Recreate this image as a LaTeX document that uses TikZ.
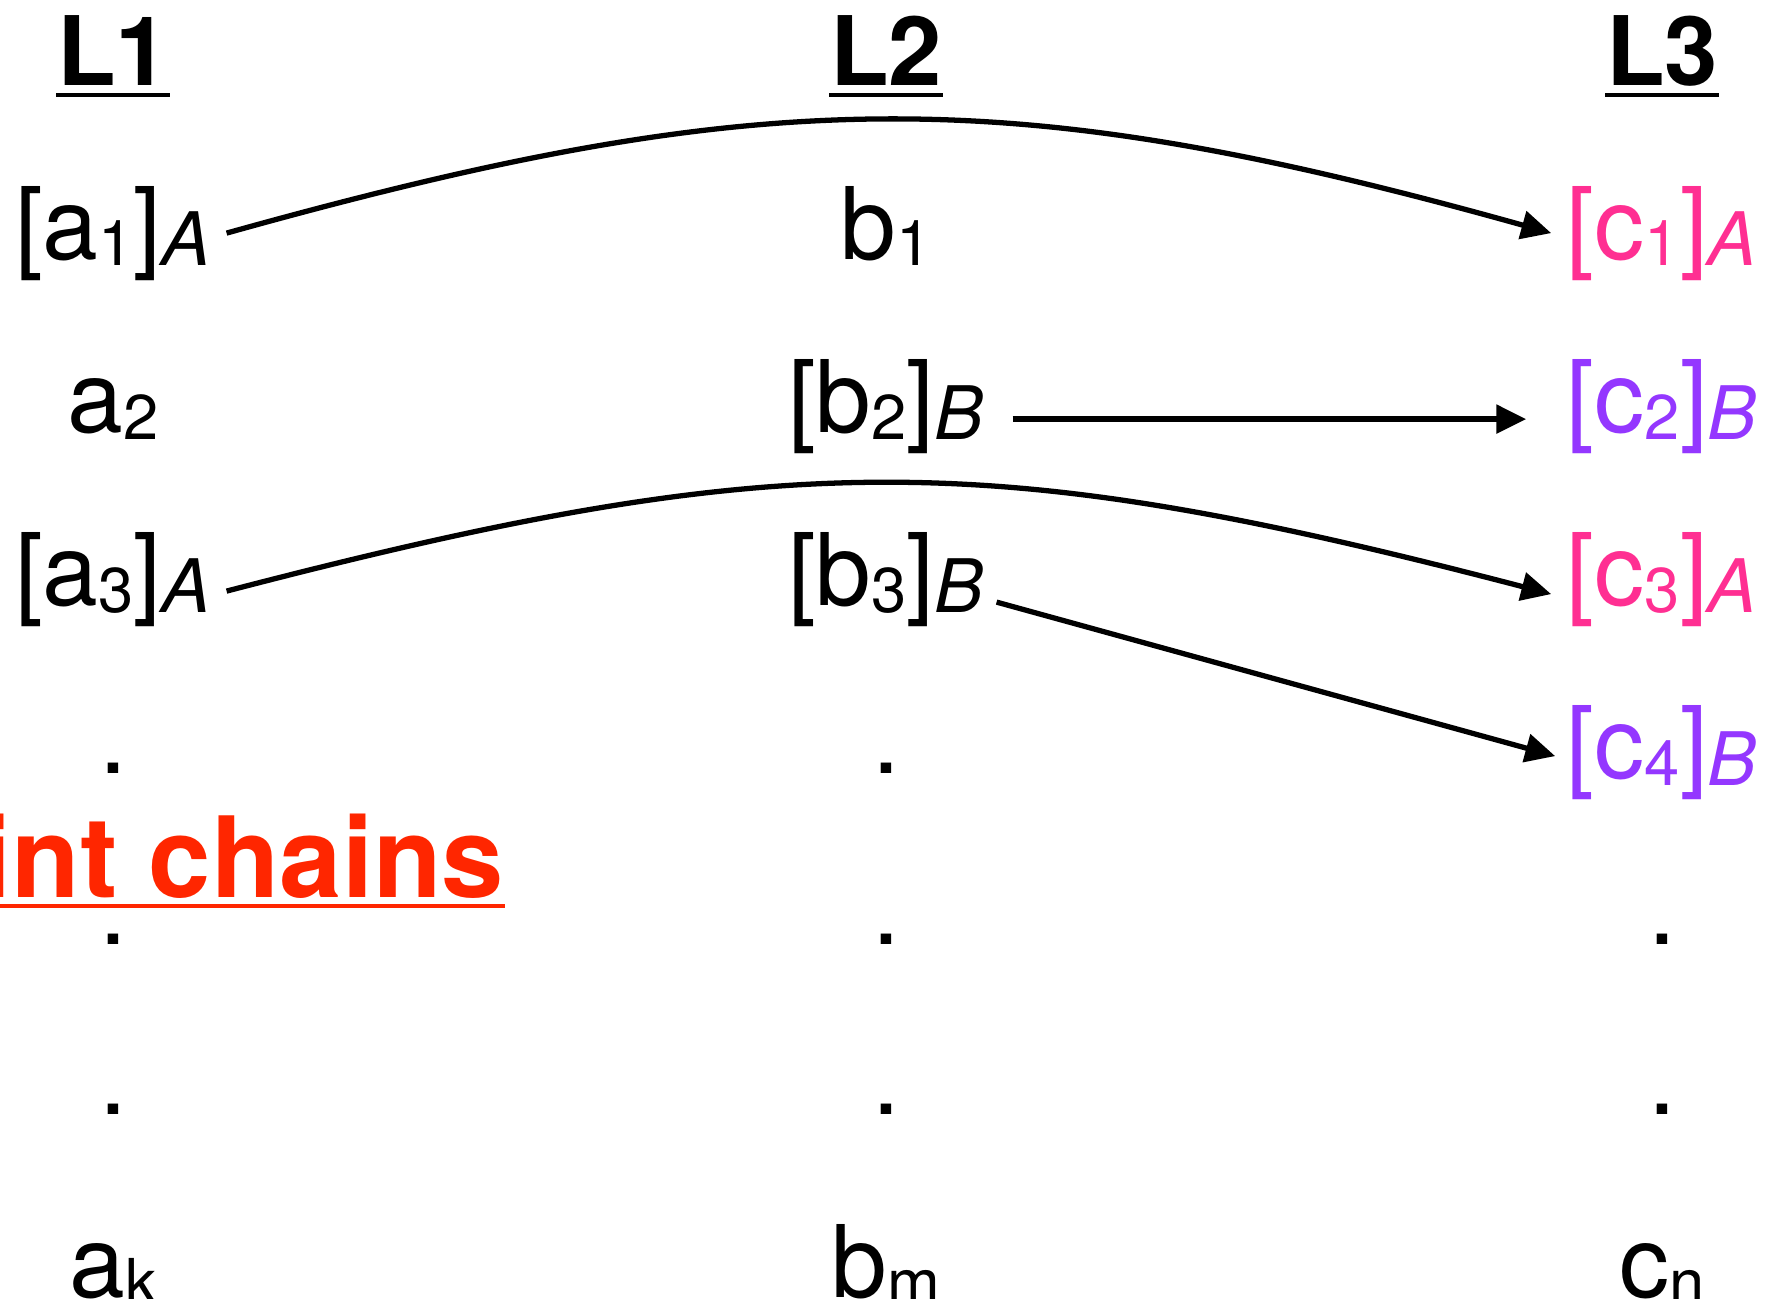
\documentclass[tikz,border=0pt]{standalone}
\usepackage{fontspec}
\setmainfont{TeX Gyre Heros}
\usepackage{xcolor}
\usepackage{tikz}
\usetikzlibrary{arrows.meta, positioning, calc}
\definecolor{chainpink}{HTML}{FF2F92}
\definecolor{chainpurple}{HTML}{9437FF}
\definecolor{chainred}{HTML}{FF2600}
\newcommand{\idx}[1]{\raisebox{-0.07cm}{\fontsize{18}{20}\selectfont #1}}
\newcommand{\grp}[1]{\raisebox{-0.07cm}{\fontsize{21}{23}\selectfont\itshape #1}}
\tikzset{
    layer/.style={anchor=base, inner sep=0pt, font=\fontsize{27.3}{30}\selectfont\bfseries},
    entry/.style={anchor=base, inner sep=0.15cm, font=\fontsize{28.5}{31}\selectfont},
    groupA/.style={entry, text=chainpink},
    groupB/.style={entry, text=chainpurple},
    arrow/.style={line width=1.5pt, -{Triangle[length=8.5pt, width=8pt]}},
    rule/.style={line width=1.15pt}
}

\begin{document}
\begin{tikzpicture}
    \useasboundingbox (0,0) rectangle (17.74,-12.99);

    % layer titles
    \node (L1) [layer] at (1.13,-0.86) {L1};
    \node (L2) [layer] at (8.86,-0.86) {L2};
    \node (L3) [layer] at (16.62,-0.86) {L3};
    \foreach \n in {L1,L2,L3}
        \draw [rule] ([yshift=-0.09cm]\n.base west) -- ([yshift=-0.09cm]\n.base east);

    % first layer
    \node (a1) [entry] at (1.13,-2.59) {{[}a\idx{1}{]}\grp{A}};
    \node (a2) [entry] at (1.13,-4.32) {a\idx{2}};
    \node (a3) [entry] at (1.13,-6.05) {{[}a\idx{3}{]}\grp{A}};
    \node (ak) [entry] at (1.13,-12.97) {a\idx{k}};

    % second layer
    \node (b1) [entry] at (8.86,-2.59) {b\idx{1}};
    \node (b2) [entry] at (8.86,-4.32) {{[}b\idx{2}{]}\grp{B}};
    \node (b3) [entry] at (8.86,-6.05) {{[}b\idx{3}{]}\grp{B}};
    \node (bm) [entry] at (8.86,-12.97) {b\idx{m}};

    % third layer
    \node (c1) [groupA] at (16.62,-2.59) {{[}c\idx{1}{]}\grp{A}};
    \node (c2) [groupB] at (16.62,-4.32) {{[}c\idx{2}{]}\grp{B}};
    \node (c3) [groupA] at (16.62,-6.05) {{[}c\idx{3}{]}\grp{A}};
    \node (c4) [groupB] at (16.62,-7.78) {{[}c\idx{4}{]}\grp{B}};
    \node (cn) [entry] at (16.62,-12.97) {c\idx{n}};

    % dots
    \foreach \y [count=\i] in {-7.73,-9.44,-11.14} {
        \node (da\i) [entry] at (1.13,\y) {.};
        \node (db\i) [entry] at (8.86,\y) {.};
    }
    \node (dc2) [entry] at (16.62,-9.44) {.};
    \node (dc3) [entry] at (16.62,-11.14) {.};

    \node (chains) [anchor=base west, inner sep=0pt, text=chainred, font=\fontsize{31.9}{34}\selectfont\bfseries] at (-0.20,-8.97) {int chains};
    \draw [rule, chainred, line width=1.4pt] ([yshift=-0.09cm]chains.base west) -- ([yshift=-0.09cm]chains.base east);

    \draw [arrow] (a1.east) .. controls +(5.4,1.51) and +(-5.4,1.51) .. (c1.west);
    \draw [arrow] ([xshift=0.13cm,yshift=-0.13cm]b2.east) -- ([xshift=-0.25cm,yshift=-0.13cm]c2.west);
    \draw [arrow] ([yshift=-0.12cm]a3.east) .. controls +(5.6,1.46) and +(-5.6,1.46) .. ([yshift=-0.15cm]c3.west);
    \draw [arrow] ([xshift=-0.03cm,yshift=-0.23cm]b3.east) -- ([xshift=0.04cm,yshift=-0.04cm]c4.west);
\end{tikzpicture}
\end{document}
